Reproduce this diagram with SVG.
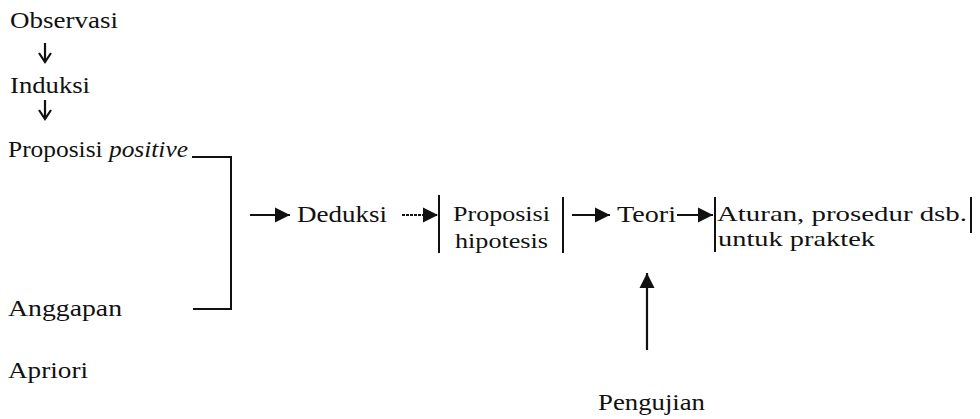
<svg xmlns="http://www.w3.org/2000/svg" width="980" height="419" viewBox="0 0 980 419">
<style>
text{font-family:"Liberation Serif","Times New Roman",serif;font-size:24px;fill:#111}
.sm{font-size:22px}
.ln{stroke:#111;stroke-width:2;fill:none}
.ar{stroke:#111;stroke-width:2.2;fill:none;marker-end:url(#head)}
.dn{stroke:#111;stroke-width:2.2;fill:none;marker-end:url(#vee)}
</style>
<defs>
<marker id="head" markerUnits="userSpaceOnUse" markerWidth="16" markerHeight="16" refX="15" refY="8" orient="auto">
<path d="M0,0.5 L15,8 L0,15.5 Z" fill="#111"/>
</marker>
<marker id="vee" markerUnits="userSpaceOnUse" markerWidth="12" markerHeight="14" refX="10" refY="7" orient="auto">
<path d="M1,1 L10,7 L1,13" fill="none" stroke="#111" stroke-width="2.2"/>
</marker>
</defs>
<g id="observasi"><text x="10" y="28" textLength="108" lengthAdjust="spacingAndGlyphs">Observasi</text></g>
<g id="induksi"><text x="10" y="93" textLength="80" lengthAdjust="spacingAndGlyphs">Induksi</text></g>
<g id="proposisi-positive"><text x="8" y="157" textLength="180" lengthAdjust="spacingAndGlyphs">Proposisi <tspan font-style="italic">positive</tspan></text></g>
<g id="anggapan"><text x="8" y="316" textLength="114" lengthAdjust="spacingAndGlyphs">Anggapan</text></g>
<g id="apriori"><text x="8" y="378" textLength="80" lengthAdjust="spacingAndGlyphs">Apriori</text></g>
<g id="deduksi"><text x="297" y="222" textLength="90" lengthAdjust="spacingAndGlyphs">Deduksi</text></g>
<g id="proposisi-hipotesis">
<line class="ln" x1="439" y1="195" x2="439" y2="253"/>
<text class="sm" x="453" y="221" textLength="97" lengthAdjust="spacingAndGlyphs">Proposisi</text>
<text class="sm" x="455" y="248" textLength="93" lengthAdjust="spacingAndGlyphs">hipotesis</text>
<line class="ln" x1="563" y1="197" x2="563" y2="253"/>
</g>
<g id="teori"><text x="617" y="222" textLength="59" lengthAdjust="spacingAndGlyphs">Teori</text></g>
<g id="aturan">
<line class="ln" x1="715" y1="197" x2="715" y2="252"/>
<text class="sm" x="717" y="221" textLength="250" lengthAdjust="spacingAndGlyphs">Aturan, prosedur dsb.</text>
<text class="sm" x="718" y="246" textLength="157" lengthAdjust="spacingAndGlyphs">untuk praktek</text>
<line class="ln" x1="971" y1="197" x2="971" y2="233"/>
</g>
<g id="pengujian"><text x="598" y="410" textLength="107" lengthAdjust="spacingAndGlyphs">Pengujian</text></g>
<g id="connectors">
<line class="dn" x1="45" y1="43" x2="45" y2="62"/>
<line class="dn" x1="45" y1="100" x2="45" y2="119"/>
<path class="ln" d="M192,157 H231 V309 H193"/>
<line class="ar" x1="250" y1="215" x2="290" y2="215"/>
<line class="ar" x1="402" y1="215" x2="438" y2="215" stroke-dasharray="3,1"/>
<line class="ar" x1="572" y1="215" x2="610" y2="215"/>
<line class="ar" x1="677" y1="215" x2="713" y2="215"/>
<line class="ar" x1="647" y1="350" x2="647" y2="273"/>
</g>
</svg>
